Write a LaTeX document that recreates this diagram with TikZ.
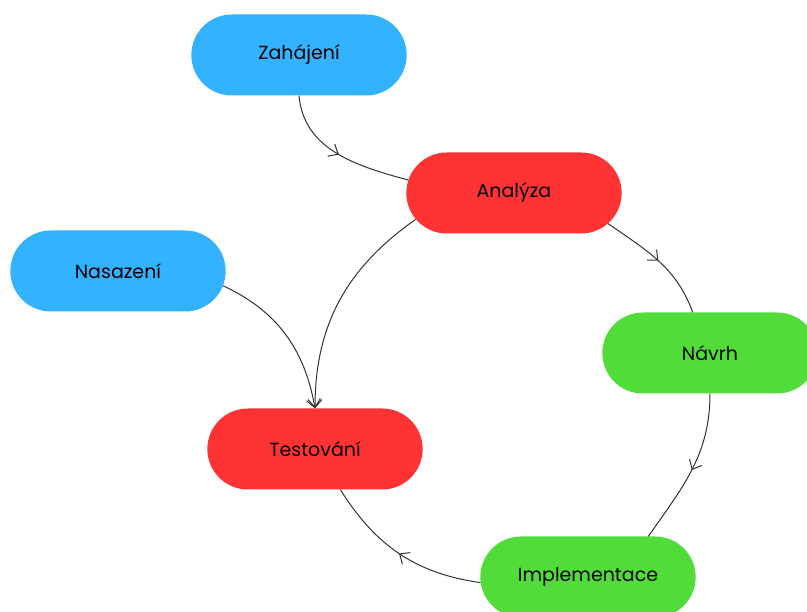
\documentclass[tikz,border=0pt]{standalone}
\usepackage{fontspec}
\setmainfont{Poppins}
\usepackage{xcolor}
\usepackage{tikz}
\usetikzlibrary{shapes.misc, arrows.meta, positioning, decorations.markings}
\definecolor{modra}{RGB}{51,178,255}
\definecolor{cervena}{RGB}{255,51,51}
\definecolor{zelena}{RGB}{82,220,58}
\tikzstyle{faze} = [rounded rectangle, minimum width = 222pt, minimum height = 81pt, text centered, draw = none, font = \fontsize{19}{22}\selectfont]
\tikzstyle{hrana} = [line width = 1pt, black!80, postaction = {decorate}, decoration = {markings, mark = at position 0.5 with {\arrow{Straight Barb[length=8pt,width=14pt,line width=1pt]}}}]
\tikzstyle{konec} = [line width = 1pt, black!80, -{Straight Barb[length=8pt,width=14pt,line width=1pt]}]

\begin{document}
\begin{tikzpicture}[x=1pt, y=1pt]
\clip (0,0) rectangle (807,-612) ;

\node (zahajeni) [faze, fill = modra] at (299,-55) {Zahájení} ;
\node (analyza) [faze, fill = cervena] at (514,-193) {Analýza} ;
\node (nasazeni) [faze, fill = modra] at (118,-271) {Nasazení} ;
\node (navrh) [faze, fill = zelena] at (710,-353) {Návrh} ;
\node (testovani) [faze, fill = cervena] at (315,-449) {Testování} ;
\node (implementace) [faze, fill = zelena] at (588,-577) {Implementace} ;

\draw[hrana] (zahajeni.south) to[out=-85, in=165] (analyza.173) ;
\draw[hrana] (analyza.-18) to[out=-35, in=110] (navrh.113) ;
\draw[hrana] (navrh.south) to[out=-90, in=55] (implementace.34) ;
\draw[hrana] (implementace.183) to[out=172, in=-58] (testovani.-58) ;
\draw[konec] (analyza.195) to[out=-145, in=90] (testovani.north) ;
\draw[konec] (nasazeni.-8) to[out=-25, in=100] (testovani.north) ;
\end{tikzpicture}
\end{document}
